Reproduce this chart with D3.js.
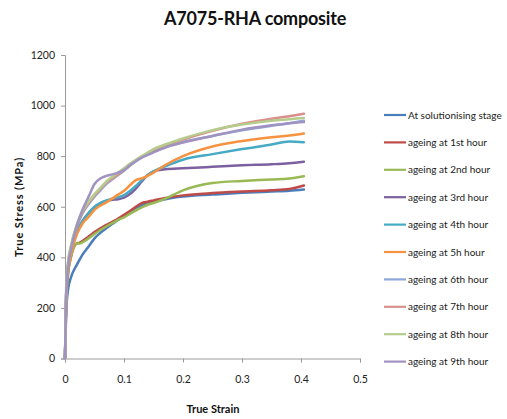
<!DOCTYPE html>
<html>
<head>
<meta charset="utf-8">
<script src="https://cdn.jsdelivr.net/npm/d3@7"></script>
<style>
  html, body { margin: 0; padding: 0; background: #fff; }
  svg { display: block; font-family: Lato, "Open Sans", sans-serif; }
</style>
</head>
<body>
<svg id="chart" width="507" height="419"></svg>
<script>
// Strain grid shared by every curve
const strain = [0, 0.002, 0.005, 0.01, 0.02, 0.025, 0.03, 0.04, 0.05, 0.06, 0.07, 0.08, 0.09,
  0.10, 0.11, 0.12, 0.13, 0.14, 0.15, 0.17, 0.20, 0.25, 0.30, 0.35, 0.38, 0.405];

// True stress (MPa) per condition
const solutionised = [0, 180, 270, 320, 370, 392, 412, 443, 475, 497, 515, 532, 548, 565, 580, 595, 606, 614, 620, 630, 640, 648, 655, 660, 663, 668];
const hour1 = [0, 220, 330, 400, 455, 458, 465, 482, 500, 515, 528, 540, 553, 568, 583, 600, 614, 620, 625, 635, 645, 654, 660, 665, 670, 684];
const hour2 = [0, 220, 330, 400, 455, 455, 460, 475, 492, 508, 522, 535, 548, 558, 572, 585, 598, 608, 615, 632, 665, 694, 702, 708, 712, 721];
const hour3 = [0, 250, 350, 420, 500, 525, 545, 575, 598, 612, 622, 628, 630, 636, 650, 672, 700, 725, 740, 748, 752, 758, 764, 768, 772, 778];
const hour4 = [0, 250, 350, 420, 500, 525, 545, 575, 600, 615, 625, 632, 637, 646, 662, 682, 705, 725, 740, 760, 786, 808, 828, 846, 858, 855];
const hour5 = [0, 240, 340, 410, 490, 515, 535, 560, 588, 605, 617, 632, 648, 663, 685, 705, 712, 722, 735, 765, 800, 838, 860, 875, 882, 890];
const hour6 = [0, 260, 360, 430, 520, 550, 575, 610, 640, 665, 690, 708, 725, 742, 762, 780, 795, 806, 816, 836, 856, 880, 902, 920, 930, 940];
const hour7 = [0, 260, 370, 440, 525, 555, 580, 615, 645, 670, 695, 712, 728, 745, 764, 782, 797, 810, 822, 842, 866, 900, 928, 948, 958, 968];
const hour8 = [0, 280, 380, 445, 530, 560, 585, 620, 650, 675, 700, 718, 735, 752, 770, 786, 800, 814, 828, 846, 870, 903, 925, 940, 946, 951];
const hour9 = [0, 250, 360, 430, 525, 560, 590, 640, 690, 712, 722, 728, 735, 745, 764, 780, 794, 805, 815, 834, 854, 880, 905, 922, 930, 935];

const seriesNames = ["At solutionising stage", "ageing at 1st hour", "ageing at 2nd hour",
  "ageing at 3rd hour", "ageing at 4th hour", "ageing at 5h hour", "ageing at 6th hour",
  "ageing at 7th hour", "ageing at 8th hour", "ageing at 9th hour"];
const seriesValues = [solutionised, hour1, hour2, hour3, hour4, hour5, hour6, hour7, hour8, hour9];
const seriesColors = ["#4a7ebb", "#be4b48", "#98b954", "#7d60a0", "#46aac5", "#f69240",
  "#8ea7da", "#d98f8c", "#b5cc8c", "#a093c0"];

const yTicks = [0, 200, 400, 600, 800, 1000, 1200];
const xTicks = [0, 0.1, 0.2, 0.3, 0.4, 0.5];

const svg = d3.select("#chart");
const x = d3.scaleLinear().domain([0, 0.5]).range([65, 360]);
const y = d3.scaleLinear().domain([0, 1200]).range([358.5, 55]);

// Title
svg.append("text").attr("x", 255).attr("y", 25).attr("text-anchor", "middle")
  .attr("font-size", 18).attr("font-weight", 700).attr("fill", "#111")
  .attr("letter-spacing", -0.2)
  .text("A7075-RHA composite");

// Axes
const yAxis = d3.axisLeft(y).tickValues(yTicks).tickSize(4).tickPadding(6).tickFormat(d3.format("d"));
const xAxis = d3.axisBottom(x).tickValues(xTicks).tickSize(4).tickPadding(13).tickFormat(d => d === 0 ? "0" : d3.format(".1f")(d));

const gy = svg.append("g").attr("transform", "translate(65,0)").call(yAxis);
const gx = svg.append("g").attr("transform", "translate(0,358.5)").call(xAxis);
[gx, gy].forEach(g => {
  g.select(".domain").attr("stroke", "#9a9a9a");
  g.selectAll(".tick line").attr("stroke", "#9a9a9a");
  g.selectAll(".tick text").attr("font-size", 10.5).attr("fill", "#222")
    .attr("font-family", "Lato, sans-serif");
});

// Axis titles
svg.append("text").attr("x", 213).attr("y", 413).attr("text-anchor", "middle")
  .attr("font-size", 11).attr("font-weight", 700).attr("fill", "#111").text("True Strain");
svg.append("text").attr("transform", "translate(23,207) rotate(-90)").attr("text-anchor", "middle")
  .attr("font-size", 11).attr("font-weight", 700).attr("fill", "#111")
  .attr("letter-spacing", 0.9).text("True Stress (MPa)");

// Curves
const line = d3.line().x((d, i) => x(strain[i])).y(d => y(d)).curve(d3.curveMonotoneX);
svg.append("g").selectAll("path").data(seriesValues).join("path")
  .attr("d", line).attr("fill", "none")
  .attr("stroke", (d, i) => seriesColors[i]).attr("stroke-width", 2.5)
  .attr("stroke-linejoin", "round").attr("stroke-linecap", "round");

// Legend
const legend = svg.append("g");
const rowY = i => 115 + i * 27.4;
seriesNames.forEach((name, i) => {
  legend.append("line").attr("x1", 384).attr("x2", 406).attr("y1", rowY(i)).attr("y2", rowY(i))
    .attr("stroke", seriesColors[i]).attr("stroke-width", 2.2);
  legend.append("text").attr("x", 408).attr("y", rowY(i)).attr("dy", "0.35em")
    .attr("font-size", 10).attr("fill", "#222").text(name);
});
</script>
</body>
</html>
